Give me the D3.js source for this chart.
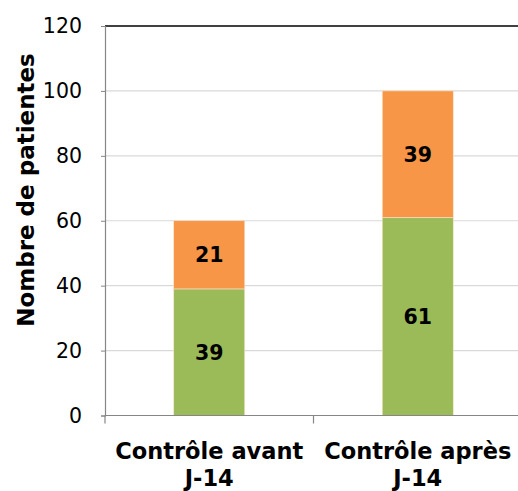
<!DOCTYPE html>
<html><head><meta charset="utf-8">
<script src="https://cdn.jsdelivr.net/npm/d3@7"></script>
<style>body{margin:0;background:#fff}svg{display:block}</style>
</head><body>
<svg id="c" width="518" height="491"></svg>
<script>
const categories = [["Contrôle avant","J-14"],["Contrôle après","J-14"]];
const seriesNames = ["Série 1","Série 2"];
const greenValues = [39, 61];
const orangeValues = [21, 39];
const yTicks = [0,20,40,60,80,100,120];
const colors = ["#9BBB59","#F79646"];

const svg = d3.select("#c");
const mLeft = 105, mTop = 26, mBottom = 415.5, mRight = 522;
const x = d3.scaleBand().domain([0,1]).range([mLeft,mRight]).paddingInner(0).paddingOuter(0);
const y = d3.scaleLinear().domain([0,120]).range([mBottom, mTop]);
const bw = 71;
const FONT = "DejaVu Sans, Verdana, sans-serif";

// gridlines
svg.append("g").selectAll("line").data(yTicks.filter(t=>t>0)).join("line")
  .attr("x1", mLeft).attr("x2", 518)
  .attr("y1", d=>y(d)).attr("y2", d=>y(d))
  .attr("stroke", d=> d===120 ? "#000" : "#d9d9d9").attr("stroke-width", d=> d===120?1.5:1.2);

// stacks
const data = categories.map((c,i)=>({i, g: greenValues[i], o: orangeValues[i]}));
const stack = d3.stack().keys(["g","o"])(data);
stack.forEach((layer, k)=>{
  svg.append("g").selectAll("rect").data(layer).join("rect")
    .attr("x", d=> x(d.data.i) + x.bandwidth()/2 - bw/2)
    .attr("width", bw)
    .attr("y", d=> y(d[1]))
    .attr("height", d=> y(d[0]) - y(d[1]))
    .attr("fill", colors[k])
    .attr("stroke", "#fbe3cc").attr("stroke-width", 0.6);
  svg.append("g").selectAll("text").data(layer).join("text")
    .attr("x", d=> x(d.data.i) + x.bandwidth()/2)
    .attr("y", d=> y((d[0]+d[1])/2))
    .attr("dy", "0.36em")
    .attr("text-anchor","middle")
    .attr("font-family",FONT)
    .attr("font-weight","bold").attr("font-size", 20.5)
    .text(d=> d[1]-d[0]);
});

// y axis
const ya = d3.axisLeft(y).tickValues(yTicks).tickSize(4).tickPadding(19);
const gy = svg.append("g").attr("transform",`translate(${mLeft},0)`).call(ya);
gy.select(".domain").attr("stroke","#868686").attr("stroke-width",1.2);
gy.selectAll(".tick line").attr("stroke","#868686");
gy.selectAll("text").attr("font-family",FONT).attr("font-size",20.5).attr("fill","#000");

// x axis
svg.append("line").attr("x1",mLeft).attr("x2",518).attr("y1",mBottom).attr("y2",mBottom).attr("stroke","#868686").attr("stroke-width",1.2);
svg.append("g").selectAll("line").data([0,1]).join("line")
  .attr("x1", d=>x(d)).attr("x2", d=>x(d)).attr("y1",mBottom).attr("y2",mBottom+8)
  .attr("stroke","#868686").attr("stroke-width",1.2);

const cl = svg.append("g").selectAll("text").data(categories).join("text")
  .attr("text-anchor","middle")
  .attr("font-family",FONT)
  .attr("font-weight","bold").attr("font-size",22.5);
cl.each(function(d,i){
  const t = d3.select(this);
  d.forEach((line,j)=>{
    t.append("tspan").attr("x", x(i)+x.bandwidth()/2).attr("y", 459 + j*27).text(line);
  });
});

// y title
svg.append("text")
  .attr("transform","translate(34,190) rotate(-90)")
  .attr("text-anchor","middle")
  .attr("font-family",FONT)
  .attr("font-weight","bold").attr("font-size",23)
  .text("Nombre de patientes");
</script>
</body></html>
